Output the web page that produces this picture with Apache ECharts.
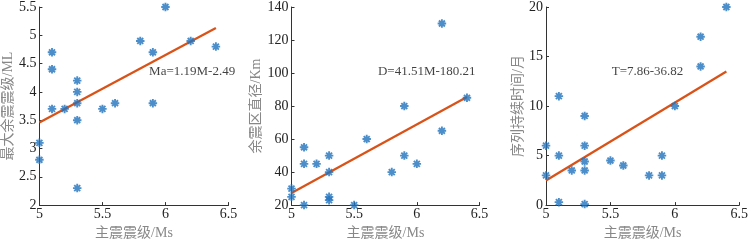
<!DOCTYPE html>
<html>
<head>
<meta charset="utf-8">
<script src="https://cdn.jsdelivr.net/npm/echarts@6/dist/echarts.min.js"></script>
<style>
  html, body { margin: 0; padding: 0; background: #fff; }
  #main { width: 751px; height: 245px; }
</style>
</head>
<body>
<div id="main"></div>
<script>
// ---------- data ----------
var xName = '主震震级/Ms';
var yNames = ['最大余震震级/ML', '余震区直径/Km', '序列持续时间/月'];

// main shock Ms, one list per panel
var msA = [5.0, 5.0, 5.1, 5.1, 5.1, 5.2, 5.3, 5.3, 5.3, 5.3, 5.3, 5.5, 5.6, 5.8, 5.9, 5.9, 6.0, 6.2, 6.4];
var maxAfter = [3.1, 2.8, 4.7, 4.4, 3.7, 3.7, 4.2, 4.0, 3.8, 3.5, 2.3, 3.7, 3.8, 4.9, 4.7, 3.8, 5.5, 4.9, 4.8];

var msB = [5.0, 5.0, 5.1, 5.1, 5.1, 5.2, 5.3, 5.3, 5.3, 5.3, 5.5, 5.6, 5.8, 5.9, 5.9, 6.0, 6.2, 6.2, 6.4];
var diameter = [30, 25, 55, 45, 20, 45, 50, 40, 25, 23, 20, 60, 40, 80, 50, 45, 130, 65, 85];

var msC = [5.0, 5.0, 5.1, 5.1, 5.1, 5.2, 5.3, 5.3, 5.3, 5.3, 5.3, 5.5, 5.6, 5.8, 5.9, 5.9, 6.0, 6.2, 6.2, 6.4];
var duration = [6, 3, 11, 5, 0.3, 3.5, 9, 6, 4.4, 3.5, 0.1, 4.5, 4, 3, 5, 3, 10, 17, 14, 20];

// fitted line end points
var fitA = [[5.0, 3.46], [6.4, 5.13]];
var fitB = [[5.0, 27.3], [6.4, 85.5]];
var fitC = [[5.0, 2.48], [6.4, 13.48]];

var fitText = ['Ma=1.19M-2.49', 'D=41.51M-180.21', 'T=7.86-36.82'];
var textAt = [[5.87, 4.36], [5.69, 100.8], [5.51, 13.47]];

var yMin = [2, 20, 0];
var yMax = [5.5, 140, 20];
var yStep = [0.5, 20, 5];

// ---------- chart ----------
var chart = echarts.init(document.getElementById('main'));

var font = "'Liberation Serif', 'Times New Roman', 'Noto Sans CJK SC', serif";
var blue = '#1f72bd';
var orange = '#d95319';
var star = 'path://M0,-5L0,5M-5,0L5,0M-3.5,-3.5L3.5,3.5M-3.5,3.5L3.5,-3.5';

var grids = [
    { left: 36.5, top: 7, width: 192, height: 202 },
    { left: 291.5, top: 7, width: 188, height: 202 },
    { left: 546, top: 7, width: 196, height: 202 }
];
var yGaps = [17, 20, 15];

function zip(xs, ys) {
    return xs.map(function (x, i) { return [x, ys[i]]; });
}

var xAxes = [], yAxes = [], series = [];
var points = [zip(msA, maxAfter), zip(msB, diameter), zip(msC, duration)];
var fits = [fitA, fitB, fitC];

for (var i = 0; i < 3; i++) {
    xAxes.push({
        gridIndex: i,
        type: 'value',
        min: 5, max: 6.5, interval: 0.5,
        name: xName,
        nameLocation: 'middle',
        nameGap: 17,
        nameTextStyle: { color: '#888', fontFamily: font, fontSize: 14 },
        axisLine: { lineStyle: { color: '#333', width: 1 } },
        axisTick: { inside: true, length: 3, lineStyle: { color: '#333' } },
        axisLabel: { color: '#222', fontFamily: font, fontSize: 14, margin: 2,
            formatter: function (v) { return String(+v.toFixed(1)); } },
        splitLine: { show: false }
    });
    yAxes.push({
        gridIndex: i,
        type: 'value',
        min: yMin[i], max: yMax[i], interval: yStep[i],
        name: yNames[i],
        nameLocation: 'middle',
        nameGap: yGaps[i],
        nameTextStyle: { color: '#888', fontFamily: font, fontSize: 14 },
        axisLine: { show: true, lineStyle: { color: '#333', width: 1 } },
        axisTick: { show: true, inside: true, length: 3, lineStyle: { color: '#333' } },
        axisLabel: { color: '#222', fontFamily: font, fontSize: 14, margin: 3 },
        splitLine: { show: false }
    });
    series.push({
        type: 'scatter',
        xAxisIndex: i, yAxisIndex: i,
        data: points[i],
        symbol: star,
        symbolSize: 8.5,
        itemStyle: { color: 'transparent', borderColor: blue, borderWidth: 1.9 },
        emphasis: { disabled: true },
        z: 3
    });
    series.push({
        type: 'line',
        xAxisIndex: i, yAxisIndex: i,
        data: fits[i],
        symbol: 'none',
        lineStyle: { color: orange, width: 2.3 },
        emphasis: { disabled: true },
        z: 2
    });
    series.push({
        type: 'scatter',
        xAxisIndex: i, yAxisIndex: i,
        data: [textAt[i]],
        symbolSize: 0,
        label: {
            show: true,
            position: 'right',
            distance: 0,
            formatter: fitText[i],
            color: '#111',
            fontFamily: font,
            fontSize: 13
        },
        emphasis: { disabled: true },
        z: 4
    });
}

chart.setOption({
    animation: false,
    backgroundColor: '#fff',
    grid: grids,
    xAxis: xAxes,
    yAxis: yAxes,
    series: series
});
</script>
</body>
</html>
